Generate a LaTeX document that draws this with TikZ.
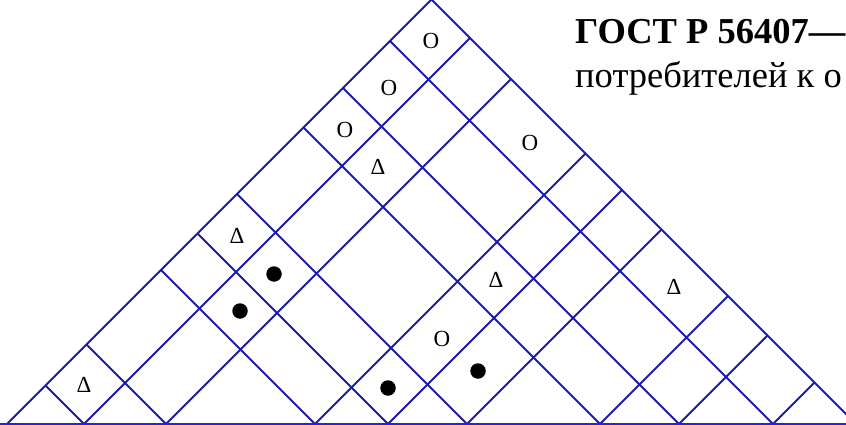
\documentclass[tikz,border=0pt]{standalone}
\usepackage{fontspec}
\setmainfont{Liberation Serif}
\definecolor{gridblue}{RGB}{28,28,170}
\definecolor{baseblue}{RGB}{45,35,210}
\begin{document}
\begin{tikzpicture}[x=1pt,y=-1pt,
  gridline/.style={draw=gridblue,line width=1.9pt},
  baseln/.style={draw=baseblue,line width=2.2pt},
  mk/.style={inner sep=0pt,font=\fontsize{23}{23}\selectfont},
  dot/.style={circle,fill=black,inner sep=0pt,minimum size=15.5pt},
  hdr/.style={inner sep=0pt,anchor=base west}]
\clip (0,0) rectangle (846,425);
\fill[white] (0,0) rectangle (846,425);
\def\yb{424}
\coordinate (L) at (7,\yb);
\coordinate (T) at (431.5,-0.5);
\coordinate (R) at (856,\yb);
\foreach \b in {84,166,315,388,467,600,679,773} {
  \coordinate (p\b) at (\b,\yb);
  \coordinate (r\b) at ({(\b+856)/2},{\yb-(856-\b)/2});
  \coordinate (l\b) at ({(\b+7)/2},{\yb-(\b-7)/2});
  \draw[gridline] (p\b) -- (r\b);
  \draw[gridline] (p\b) -- (l\b);
}
\draw[gridline,line join=miter] (L) -- (T) -- (R);
\coordinate (B0) at (0,\yb);
\coordinate (B1) at (846,\yb);
\draw[baseln] (B0) -- (B1);
% markers
\node[mk] (o1) at (431,41) {O};
\node[mk] (o2) at (389,88) {O};
\node[mk] (o3) at (345,130) {O};
\node[mk] (o4) at (530,143) {O};
\node[mk] (o5) at (442,339) {O};
\node[mk] (d1) at (378,167) {Δ};
\node[mk] (d2) at (237,236) {Δ};
\node[mk] (d3) at (84,385) {Δ};
\node[mk] (d4) at (496,280) {Δ};
\node[mk] (d5) at (674,287) {Δ};
\node[dot] (c1) at (274,274) {};
\node[dot] (c2) at (240,311) {};
\node[dot] (c3) at (388,388) {};
\node[dot] (c4) at (478,371) {};
% header text
\node[hdr,font=\fontsize{36.5}{36.5}\selectfont\bfseries] (h1) at (575,44) {ГОСТ Р 56407—};
\node[hdr,font=\fontsize{36.5}{36.5}\selectfont] (h2) at (575,88) {потребителей к о};
\end{tikzpicture}
\end{document}
